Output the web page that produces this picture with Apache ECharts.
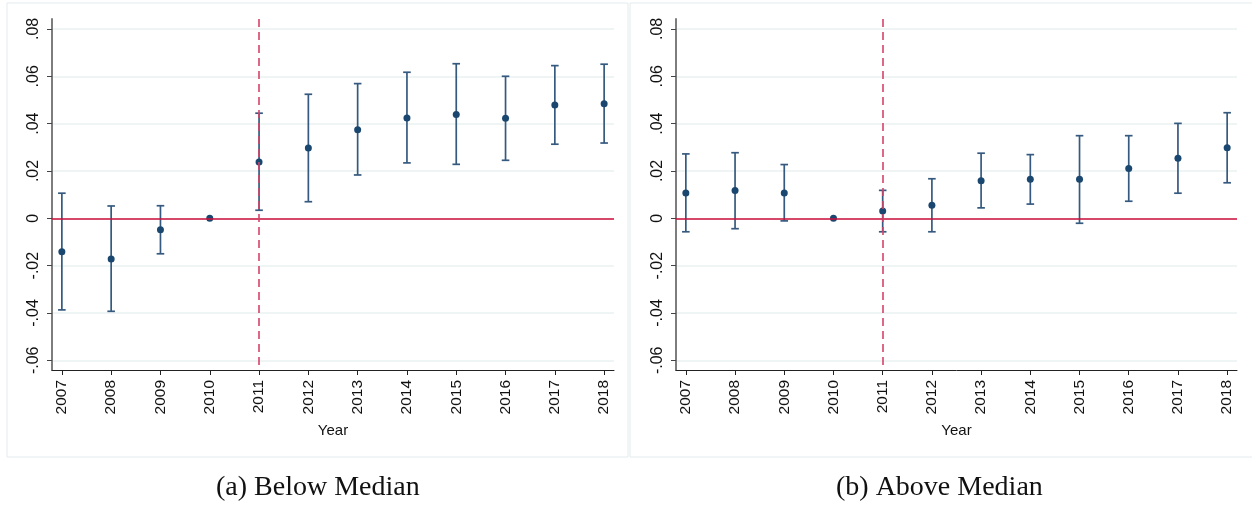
<!DOCTYPE html>
<html>
<head>
<meta charset="utf-8">
<script src="https://cdn.jsdelivr.net/npm/echarts@6/dist/echarts.min.js"></script>
<style>
html,body{margin:0;padding:0;background:#fff;}
#chart{width:1252px;height:506px;}
</style>
</head>
<body>
<div id="chart"></div>
<script>
// ---- data ----
const years = [2007, 2008, 2009, 2010, 2011, 2012, 2013, 2014, 2015, 2016, 2017, 2018];

const belowCoef = [-0.0141, -0.0172, -0.0048, 0, 0.0238, 0.0297, 0.0374, 0.0424, 0.0439, 0.0423, 0.0479, 0.0484];
const belowLow  = [-0.0387, -0.0393, -0.0150, 0, 0.0034, 0.0070, 0.0183, 0.0234, 0.0228, 0.0245, 0.0313, 0.0318];
const belowHigh = [0.0106, 0.0052, 0.0053, 0, 0.0444, 0.0524, 0.0569, 0.0617, 0.0653, 0.0600, 0.0645, 0.0651];

const aboveCoef = [0.0107, 0.0117, 0.0107, 0, 0.0031, 0.0055, 0.0159, 0.0165, 0.0165, 0.0210, 0.0254, 0.0298];
const aboveLow  = [-0.0057, -0.0044, -0.0011, 0, -0.0057, -0.0057, 0.0044, 0.0060, -0.0021, 0.0072, 0.0106, 0.0150];
const aboveHigh = [0.0272, 0.0277, 0.0227, 0, 0.0118, 0.0167, 0.0275, 0.0269, 0.0349, 0.0349, 0.0401, 0.0446];

const yTickValues = [-0.06, -0.04, -0.02, 0, 0.02, 0.04, 0.06, 0.08];
const yTickLabels = ['-.06', '-.04', '-.02', '0', '.02', '.04', '.06', '.08'];

const xAxisTitle = 'Year';
const panelCaptions = ['(a) Below Median', '(b) Above Median'];
const eventYear = 2011;

// ---- styling ----
const NAVY = '#1a476f';
const BAR = '#365a7f';
const RED = '#cc0f3b';
const RED_DASH = '#d44468';
const GRID = '#eaf1f2';
const SANS = 'Liberation Sans, Arial, sans-serif';
const Y_MIN = -0.0641, Y_MAX = 0.0842;

function yLabel(v) {
  for (let i = 0; i < yTickValues.length; i++) {
    if (Math.abs(yTickValues[i] - v) < 1e-9) return yTickLabels[i];
  }
  return '';
}

function makeXAxis(gi) {
  return {
    type: 'value', gridIndex: gi, min: 2006.8, max: 2018.2,
    name: xAxisTitle, nameLocation: 'middle', nameGap: 53,
    nameTextStyle: { fontFamily: SANS, fontSize: 15, color: '#111' },
    axisLine: { show: true, onZero: false, lineStyle: { color: '#222', width: 1 } },
    axisTick: { show: true, length: 5, customValues: years, lineStyle: { color: '#222' } },
    axisLabel: { customValues: years, rotate: 90, margin: 10, fontFamily: SANS, fontSize: 15.5, color: '#111',
                 formatter: v => String(Math.round(v)) },
    splitLine: { show: false }
  };
}
function makeYAxis(gi) {
  return {
    type: 'value', gridIndex: gi, min: Y_MIN, max: Y_MAX,
    axisLine: { show: true, onZero: false, lineStyle: { color: '#7d7d7d', width: 2 } },
    axisTick: { show: true, length: 5, customValues: yTickValues, lineStyle: { color: '#444' } },
    axisLabel: { customValues: yTickValues, rotate: 90, margin: 10, fontFamily: SANS, fontSize: 16, color: '#111',
                 formatter: yLabel },
    splitLine: { show: true, lineStyle: { color: GRID, width: 1.5 } }
  };
}

function errData(low, high) {
  return years.map((y, i) => [y, low[i], high[i]]);
}
function renderErr(params, api) {
  const x = api.value(0), lo = api.value(1), hi = api.value(2);
  if (lo === hi) return null;
  const p1 = api.coord([x, hi]);
  const p2 = api.coord([x, lo]);
  const hw = 3.8;
  const st = { stroke: BAR, lineWidth: 1.7, fill: null };
  return {
    type: 'group',
    children: [
      { type: 'line', shape: { x1: p1[0], y1: p1[1], x2: p2[0], y2: p2[1] }, style: st },
      { type: 'line', shape: { x1: p1[0] - hw, y1: p1[1], x2: p1[0] + hw, y2: p1[1] }, style: st },
      { type: 'line', shape: { x1: p2[0] - hw, y1: p2[1], x2: p2[0] + hw, y2: p2[1] }, style: st }
    ]
  };
}

function refSeries(gi) {
  return {
    type: 'line', xAxisIndex: gi, yAxisIndex: gi, data: [], silent: true, z: 1,
    markLine: {
      silent: true, symbol: 'none', label: { show: false }, animation: false,
      data: [
        { yAxis: 0, lineStyle: { color: RED, width: 1.6, type: 'solid' } },
        [
          { coord: [eventYear, Y_MAX], lineStyle: { color: RED_DASH, width: 1.6, type: [8, 5] } },
          { coord: [eventYear, Y_MIN] }
        ]
      ]
    }
  };
}

const chart = echarts.init(document.getElementById('chart'), null, { renderer: 'canvas' });
chart.setOption({
  animation: false,
  backgroundColor: '#fff',
  grid: [
    { left: 52, right: 638, top: 19, bottom: 136 },
    { left: 676, right: 15, top: 19, bottom: 136 }
  ],
  xAxis: [makeXAxis(0), makeXAxis(1)],
  yAxis: [makeYAxis(0), makeYAxis(1)],
  graphic: [
    { type: 'rect', shape: { x: 7, y: 3, width: 621, height: 454 }, style: { fill: null, stroke: '#e3ebee', lineWidth: 1 }, z: -10 },
    { type: 'rect', shape: { x: 630, y: 3, width: 640, height: 454 }, style: { fill: null, stroke: '#e3ebee', lineWidth: 1 }, z: -10 },
    { type: 'text', left: 216, top: 474, style: { text: panelCaptions[0], font: '28px "Liberation Serif", serif', fill: '#111' } },
    { type: 'text', left: 836, top: 474, style: { text: panelCaptions[1], font: '28px "Liberation Serif", serif', fill: '#111' } }
  ],
  series: [
    refSeries(0),
    refSeries(1),
    { type: 'custom', xAxisIndex: 0, yAxisIndex: 0, renderItem: renderErr, data: errData(belowLow, belowHigh), z: 3 },
    { type: 'custom', xAxisIndex: 1, yAxisIndex: 1, renderItem: renderErr, data: errData(aboveLow, aboveHigh), z: 3 },
    { type: 'scatter', xAxisIndex: 0, yAxisIndex: 0, symbolSize: 7, itemStyle: { color: NAVY, opacity: 1 },
      data: years.map((y, i) => [y, belowCoef[i]]), z: 4 },
    { type: 'scatter', xAxisIndex: 1, yAxisIndex: 1, symbolSize: 7, itemStyle: { color: NAVY, opacity: 1 },
      data: years.map((y, i) => [y, aboveCoef[i]]), z: 4 }
  ]
});
</script>
</body>
</html>
